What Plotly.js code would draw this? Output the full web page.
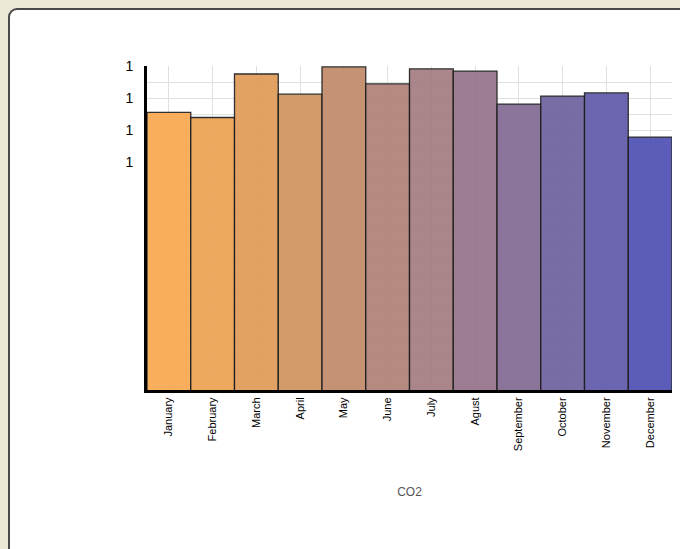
<!DOCTYPE html>
<html>
<head>
<meta charset="utf-8">
<script src="https://cdn.plot.ly/plotly-3.0.1.min.js"></script>
<style>
  html, body { margin: 0; padding: 0; width: 680px; height: 549px; overflow: hidden; background: #ece9d8; }
  #panel { position: absolute; left: 8px; top: 8px; width: 720px; height: 600px; background: #ffffff; border: 2px solid #4a4a4a; border-radius: 9px; box-sizing: border-box; }
  #chart { position: absolute; left: 0; top: 0; width: 680px; height: 549px; }
</style>
</head>
<body>
<div id="panel"></div>
<div id="chart"></div>
<script>
const months = ["January","February","March","April","May","June","July","Agust","September","October","November","December"];
const co2 = [1.155, 1.139, 1.275, 1.212, 1.297, 1.244, 1.291, 1.284, 1.181, 1.206, 1.216, 1.078];
const yTickVals = [1.0, 1.1, 1.2, 1.3];
const yTickText = ["1", "1", "1", "1"];
const barColors = ["#f8a84f","#eca352","#df9b57","#d0935e","#c18a69","#b08177","#a37b7f","#947289","#826a93","#6f619e","#6059aa","#4e50b2"];

const trace = {
  type: "bar",
  x: months,
  y: co2,
  width: 1,
  marker: { color: barColors, opacity: 0.92, line: { color: "#1e1e1e", width: 1.3 } },
  hoverinfo: "x+y"
};

const layout = {
  width: 680, height: 549,
  margin: { l: 147, r: 8, t: 66, b: 159 },
  paper_bgcolor: "rgba(0,0,0,0)",
  plot_bgcolor: "#ffffff",
  showlegend: false,
  bargap: 0,
  font: { family: "Liberation Sans, Arial, sans-serif", color: "#000000" },
  xaxis: {
    type: "category",
    tickangle: -90,
    tickfont: { size: 11, color: "#000000" },
    showgrid: true, gridcolor: "#e0e0e0", gridwidth: 1,
    showline: true, linecolor: "#000", linewidth: 3,
    ticks: "", ticklen: 0,
    title: { text: "CO2", font: { size: 12, color: "#555555" }, standoff: 38 },
    automargin: false
  },
  yaxis: {
    range: [0.2875, 1.3],
    tickvals: yTickVals,
    ticktext: yTickText,
    tickfont: { size: 14, color: "#000000" },
    showgrid: true, gridcolor: "#e0e0e0", gridwidth: 1,
    minor: { dtick: 0.05, tick0: 1.0, showgrid: true, gridcolor: "#e0e0e0", gridwidth: 1 },
    showline: true, linecolor: "#000", linewidth: 3,
    zeroline: false,
    ticks: "", ticklabelstandoff: 8,
    automargin: false
  }
};

Plotly.newPlot("chart", [trace], layout, { displayModeBar: false, staticPlot: true });
</script>
</body>
</html>
